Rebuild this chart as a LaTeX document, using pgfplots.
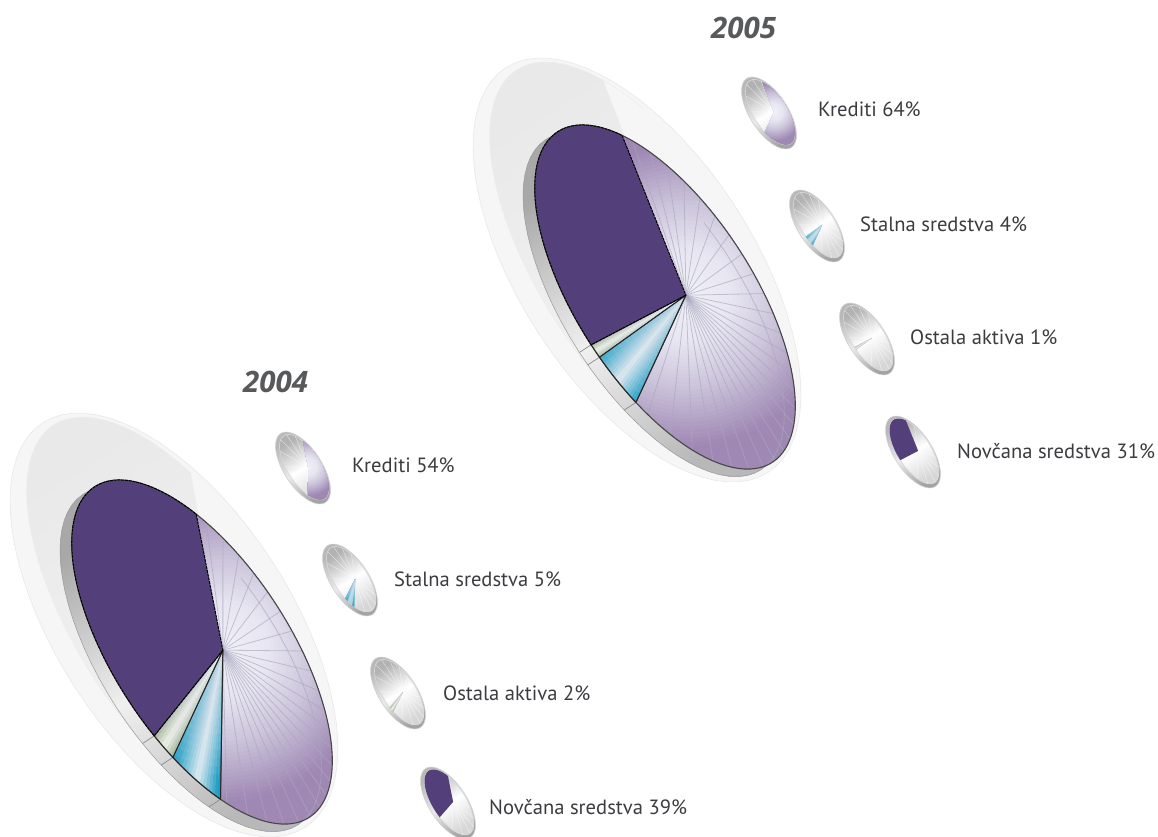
\documentclass[border=0pt]{standalone}
\usepackage{pgfplots}
\pgfplotsset{compat=1.18}
\usepackage{fontspec}
\setmainfont{PT Sans}
\newfontfamily\titlefont{Open Sans}

\definecolor{darkWedge}{HTML}{533F7A}
\definecolor{purpleRim}{HTML}{A088B4}
\definecolor{purpleMid}{HTML}{CBC3DA}
\definecolor{purpleSoft}{HTML}{E7E5F0}
\definecolor{purpleCore}{HTML}{F2F2F8}
\definecolor{rayLine}{HTML}{A9A7BF}
\definecolor{tealEdge}{HTML}{1A9CC4}
\definecolor{tealPale}{HTML}{DFEBF1}
\definecolor{paleFade}{HTML}{E2E7F1}
\definecolor{sageEdge}{HTML}{A3B495}
\definecolor{sagePale}{HTML}{F4F6EC}
\definecolor{labelInk}{HTML}{3C3C40}
\definecolor{titleInk}{HTML}{58595B}

% Disc frame: U runs down the long axis, V across it (image coordinates).
\def\Ux{0.545}\def\Uy{0.839}\def\Vx{-0.839}\def\Vy{0.545}

\newcommand{\setdisc}[6]{% centre x, y, semi axes a, b, hub offset in disc units
  \def\Cx{#1}\def\Cy{#2}\def\Ra{#3}\def\Rb{#4}\def\Px{#5}\def\Py{#6}%
  \pgfmathsetmacro\Ax{\Cx+\Ra*\Px*\Ux+\Rb*\Py*\Vx}%
  \pgfmathsetmacro\Ay{\Cy+\Ra*\Px*\Uy+\Rb*\Py*\Vy}}

% Offset from the hub to the rim along a direction measured round the hub.
\newcommand{\rimpoint}[1]{%
  \pgfmathsetmacro\co{cos(#1)}\pgfmathsetmacro\sn{sin(#1)}%
  \pgfmathsetmacro\pd{\Px*\co+\Py*\sn}%
  \pgfmathsetmacro\sd{-\pd+sqrt(\pd*\pd-\Px*\Px-\Py*\Py+1)}%
  \pgfmathsetmacro\Dx{\sd*(\Ra*\co*\Ux+\Rb*\sn*\Vx)}%
  \pgfmathsetmacro\Dy{\sd*(\Ra*\co*\Uy+\Rb*\sn*\Vy)}}

% Slice between two directions, cut off at distance R from the hub.
\newcommand{\wedgeplot}[4]{%
  \pgfmathtruncatemacro\Nn{max(1,ceil(abs((#3)-(#2))/\Step))}%
  \gdef\wl{}%
  \foreach \ii in {0,...,\Nn}{%
    \pgfmathsetmacro\ph{(#2)+((#3)-(#2))*(\ii/\Nn)}%
    \rimpoint{\ph}%
    \pgfmathsetmacro\ff{min(1,(#4)/veclen(\Dx,\Dy))}%
    \pgfmathsetmacro\xx{\Ax+\ff*\Dx}\pgfmathsetmacro\yy{\Ay+\ff*\Dy}%
    \xdef\wl{\wl(\xx,\yy)}}%
  \edef\tmp{\noexpand\addplot[#1] coordinates {(\Ax,\Ay)\wl} -- cycle;}\tmp}

% Spoke from the hub to the rim.
\newcommand{\rayplot}[2]{%
  \rimpoint{#2}%
  \pgfmathsetmacro\xx{\Ax+\Dx}\pgfmathsetmacro\yy{\Ay+\Dy}%
  \edef\tmp{\noexpand\addplot[#1] coordinates {(\Ax,\Ay)(\xx,\yy)};}\tmp}

% Short mark across the side of the disc where two slices meet.
\newcommand{\edgeplot}[2]{%
  \rimpoint{#2}%
  \pgfmathsetmacro\xx{\Ax+\Dx}\pgfmathsetmacro\yy{\Ay+\Dy}%
  \pgfmathsetmacro\xb{\xx-11.7*\Kk}\pgfmathsetmacro\yb{\yy+7.6*\Kk}%
  \edef\tmp{\noexpand\addplot[#1] coordinates {(\xx,\yy)(\xb,\yb)};}\tmp}

% Part of an ellipse; the last argument closes it when it is -- cycle.
\newcommand{\arcplot}[8]{%
  \gdef\wl{}%
  \pgfmathtruncatemacro\Nn{ceil(((#7)-(#6))/5)}%
  \foreach \ii in {0,...,\Nn}{%
    \pgfmathsetmacro\tta{(#6)+((#7)-(#6))*(\ii/\Nn)}%
    \pgfmathsetmacro\xx{(#2)+(#4)*cos(\tta)*\Ux+(#5)*sin(\tta)*\Vx}%
    \pgfmathsetmacro\yy{(#3)+(#4)*cos(\tta)*\Uy+(#5)*sin(\tta)*\Vy}%
    \xdef\wl{\wl(\xx,\yy)}}%
  \edef\tmp{\noexpand\addplot[#1] coordinates {\wl} #8;}\tmp}

% Purple slice: colour follows the distance from the hub.
\newcommand{\purpleslice}[2]{%
  \wedgeplot{fill=purpleRim,draw=none}{#1}{#2}{1000}%
  \foreach \rad in {151,147,...,95}{%
    \pgfmathsetmacro\mx{min(100,(\rad-95)/58*100)}%
    \pgfmathsetmacro\rk{\rad*\Kk}%
    \wedgeplot{fill=purpleRim!\mx!purpleMid,draw=none}{#1}{#2}{\rk}}%
  \foreach \rad in {91,87,...,51}{%
    \pgfmathsetmacro\mx{(\rad-50)/45*100}%
    \pgfmathsetmacro\rk{\rad*\Kk}%
    \wedgeplot{fill=purpleMid!\mx!purpleSoft,draw=none}{#1}{#2}{\rk}}%
  \foreach \rad in {47,42,...,7}{%
    \pgfmathsetmacro\mx{\rad/50*100}%
    \pgfmathsetmacro\rk{\rad*\Kk}%
    \wedgeplot{fill=purpleSoft!\mx!purpleCore,draw=none}{#1}{#2}{\rk}}}

% Banded slice: strong at its two edges, pale along its middle.
\newcommand{\bandslice}[5]{% from, to, edge colour, pale colour, strips
  \pgfmathsetmacro\stripw{((#2)-(#1))/#5}%
  \pgfmathtruncatemacro\Mm{#5-1}%
  \foreach \jj in {0,...,\Mm}{%
    \pgfmathsetmacro\pa{(#1)+\jj*\stripw}\pgfmathsetmacro\pb{\pa+\stripw}%
    \pgfmathsetmacro\mx{100-100*min(1,abs(2*(\jj+0.5)/#5-1)*1.15)}%
    \wedgeplot{fill=#4!\mx!#3,draw=#4!\mx!#3,line width=0.2pt}{\pa}{\pb}{1000}}%
  \foreach \rad in {124,116,...,12}{%
    \pgfmathsetmacro\rk{\rad*\Kk}%
    \wedgeplot{fill=paleFade,fill opacity=0.09,draw=none}{#1}{#2}{\rk}}}

% Large disc with halo, side wall, slices, spokes and outlines.
\newcommand{\bigpie}[7]{% cx, cy, start, dark, sage, teal, purple (per cent)
  \def\Kk{1}\def\Step{3}%
  \pgfmathsetmacro\hx{#1-28}\pgfmathsetmacro\hy{#2-27}%
  \arcplot{fill=black!3.5,draw=black!9,line width=0.6pt}{\hx}{\hy}{241}{117}{0}{360}{-- cycle}%
  \pgfmathsetmacro\hx{#1-20}\pgfmathsetmacro\hy{#2-29}%
  \setdisc{\hx}{\hy}{236}{104}{0.19}{-0.19}%
  \pgfmathsetmacro\pz{#3-198}\pgfmathsetmacro\py{#3+1.5}%
  \wedgeplot{top color=black!8.5,bottom color=black!4,shading angle=33,draw=none}{\pz}{\py}{1000}%
  \arcplot{draw=black!7,line width=0.5pt}{\hx}{\hy}{236}{104}{60}{235}{}%
  \pgfmathsetmacro\hx{#1-11.7}\pgfmathsetmacro\hy{#2+7.6}%
  \arcplot{top color=black!34,bottom color=black!28,middle color=black!6,shading angle=33,draw=black!40,line width=0.5pt}{\hx}{\hy}{197}{88}{0}{360}{-- cycle}%
  \setdisc{#1}{#2}{197}{88}{0.05}{-0.21}%
  \pgfmathsetmacro\phD{#3-#4*3.6}%
  \pgfmathsetmacro\phG{\phD-#5*3.6}%
  \pgfmathsetmacro\phB{\phG-#6*3.6}%
  \pgfmathsetmacro\phE{#3+#7*3.6}%
  \purpleslice{#3}{\phE}%
  \pgfmathsetmacro\afirst{#3+5}\pgfmathsetmacro\asecond{#3+13.5}\pgfmathsetmacro\alast{\phE-2}%
  \foreach \ang in {\afirst,\asecond,...,\alast}{\rayplot{draw=rayLine,line width=0.8pt,opacity=0.65}{\ang}}%
  \pgfmathsetmacro\hx{#1-10.9}\pgfmathsetmacro\hy{#2+7.1}%
  \arcplot{draw=rayLine,line width=0.8pt,opacity=0.65}{\hx}{\hy}{197}{88}{-102}{24}{}%
  \bandslice{\phB}{\phG}{tealEdge}{tealPale}{16}%
  \bandslice{\phG}{\phD}{sageEdge}{sagePale}{8}%
  \wedgeplot{fill=darkWedge,draw=none}{\phD}{#3}{1000}%
  \edgeplot{draw=black!45,line width=0.7pt}{\phD}%
  \edgeplot{draw=black!45,line width=0.7pt}{\phG}%
  \edgeplot{draw=black!45,line width=0.7pt}{\phB}%
  \wedgeplot{draw=black!72,line width=1.1pt}{\phB}{\phE}{1000}%
  \wedgeplot{draw=black!85,line width=0.9pt}{\phG}{\phB}{1000}%
  \wedgeplot{draw=black!85,line width=0.8pt}{\phD}{\phG}{1000}%
  \wedgeplot{draw=black,line width=1pt,dash pattern=on 3pt off 0.8pt}{\phD}{#3}{1000}}

% Small disc: bright face with one slice picked out.
\newcommand{\icon}[5]{% cx, cy, kind, from, to
  \def\Kk{0.195}\def\Step{8}%
  \arcplot{top color=black!28,bottom color=black!36,middle color=black!8,shading angle=33,draw=black!18,line width=0.6pt}{#1}{#2}{41}{19}{0}{360}{-- cycle}%
  \pgfmathsetmacro\hx{#1+1.2}\pgfmathsetmacro\hy{#2-0.8}%
  \arcplot{top color=black!30,bottom color=black!16,middle color=white,shading angle=33,draw=white!85!black,line width=0.6pt}{\hx}{\hy}{37.5}{16.5}{0}{360}{-- cycle}%
  \setdisc{\hx}{\hy}{37.5}{16.5}{0.05}{-0.21}%
  \foreach \ang in {10,34,...,358}{\rayplot{draw=white,line width=0.4pt,opacity=0.6}{\ang}}%
  \ifcase#3\relax
    \wedgeplot{fill=darkWedge,draw=none}{#4}{#5}{1000}%
  \or
    \purpleslice{#4}{#5}%
  \or
    \bandslice{#4}{#5}{tealEdge}{tealPale}{4}%
  \or
    \bandslice{#4}{#5}{sageEdge}{sagePale}{3}%
  \fi}

\begin{document}
\begin{tikzpicture}
\begin{axis}[
  scale only axis, width=1158pt, height=836pt,
  xmin=0, xmax=1158, ymin=0, ymax=836, y dir=reverse,
  hide axis, clip=true,
  every axis plot/.append style={line join=round},
]
% The picture always spans the whole axis area.
\path (axis cs:0,0) rectangle (axis cs:1158,836);
% 2004: 39, 2, 5 and 54 per cent, first edge at 222 degrees
\bigpie{202}{652}{222}{39}{2}{5}{54}
\icon{303}{468}{1}{222}{416.4}
\icon{350}{580}{2}{57.6}{75.6}
\icon{398}{693}{3}{75.6}{82.8}
\icon{448}{803}{0}{82.8}{222}
% 2005: 31, 1, 4 and 64 per cent, first edge at 204 degrees
\bigpie{665}{297}{204}{31}{1}{4}{64}
\icon{769}{113}{1}{204}{434.4}
\icon{817}{226}{2}{74.4}{88.8}
\icon{867}{339}{3}{88.8}{92.4}
\icon{913}{452}{0}{92.4}{204}

\node[anchor=base west,font=\titlefont\bfseries\itshape\fontsize{29.5}{34}\selectfont,text=titleInk,inner sep=0pt] at (axis cs:711,38) {2005};
\node[anchor=base west,font=\titlefont\bfseries\itshape\fontsize{29.5}{34}\selectfont,text=titleInk,inner sep=0pt] at (axis cs:243,392) {2004};
\foreach \xp/\yp/\txt in {
  818/116/Krediti 64\%,
  860/231/Stalna sredstva 4\%,
  910/344/Ostala aktiva 1\%,
  957/458/Novčana sredstva 31\%,
  352/472/Krediti 54\%,
  394/586/Stalna sredstva 5\%,
  443/700/Ostala aktiva 2\%,
  489/814/Novčana sredstva 39\%}{
  \edef\tmp{\noexpand\node[anchor=base west,font=\noexpand\fontsize{20.6}{24}\noexpand\selectfont,text=labelInk,inner sep=0pt] at (axis cs:\xp,\yp) {\unexpanded\expandafter{\txt}};}\tmp
}
\end{axis}
\end{tikzpicture}
\end{document}
